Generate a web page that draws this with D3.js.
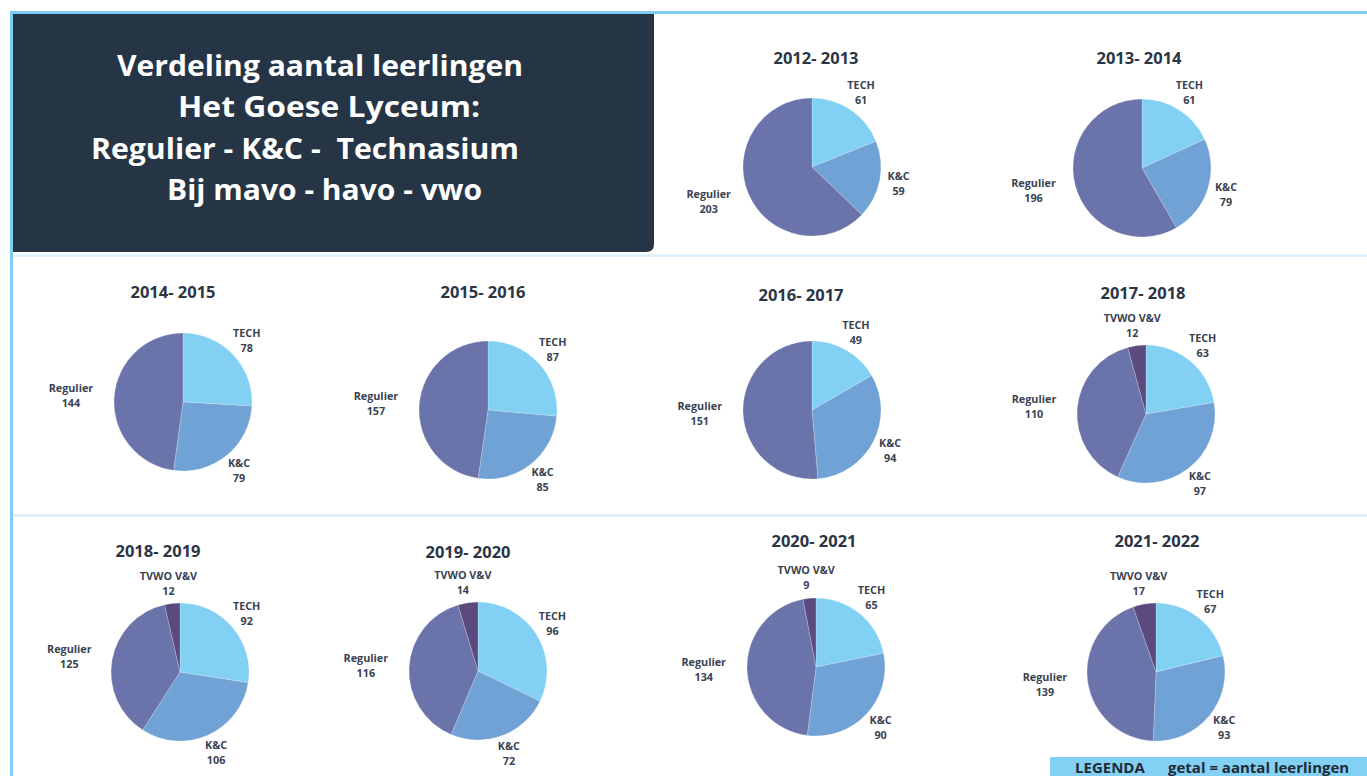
<!DOCTYPE html>
<html>
<head>
<meta charset="utf-8">
<script src="https://cdn.jsdelivr.net/npm/d3@7"></script>
<style>
  html, body { margin: 0; padding: 0; background: #ffffff; }
  svg { display: block; }
  text { font-family: "Open Sans", "Noto Sans", sans-serif; }
</style>
</head>
<body>
<svg id="chart" width="1367" height="776"></svg>
<script>
// ---------- DATA ----------
const seasons   = ["2012- 2013", "2013- 2014", "2014- 2015", "2015- 2016", "2016- 2017",
                   "2017- 2018", "2018- 2019", "2019- 2020", "2020- 2021", "2021- 2022"];
const categories = ["TECH", "K&C", "Regulier", "TVWO V&V"];
const tech      = [61, 61, 78, 87, 49, 63, 92, 96, 65, 67];
const kc        = [59, 79, 79, 85, 94, 97, 106, 72, 90, 93];
const regulier  = [203, 196, 144, 157, 151, 110, 125, 116, 134, 139];
const tvwo      = [0, 0, 0, 0, 0, 12, 12, 14, 9, 17];
const tvwoLabel = ["", "", "", "", "", "TVWO V&V", "TVWO V&V", "TVWO V&V", "TVWO V&V", "TWVO V&V"];
const titleLines = ["Verdeling aantal leerlingen", "Het Goese Lyceum:",
                    "Regulier - K&C -  Technasium", "Bij mavo - havo - vwo"];
const legendLabel = "LEGENDA";
const legendText  = "getal = aantal leerlingen";

// ---------- LAYOUT / STYLE ----------
const colors = { "TECH": "#82d0f4", "K&C": "#71a2d5", "Regulier": "#6a73aa", "TVWO V&V": "#5b4a7d" };
const extraPush = { "TECH": 0, "K&C": 3, "Regulier": 16, "TVWO V&V": 0 };
const layout = [
  { cx: 812,  cy: 167, tx: 816,  ty: 64 },
  { cx: 1142, cy: 168, tx: 1139, ty: 64 },
  { cx: 183,  cy: 402, tx: 173,  ty: 298 },
  { cx: 488,  cy: 410, tx: 483,  ty: 298 },
  { cx: 812,  cy: 410, tx: 801,  ty: 301 },
  { cx: 1146, cy: 414, tx: 1143, ty: 299 },
  { cx: 180,  cy: 672, tx: 158,  ty: 557 },
  { cx: 478,  cy: 671, tx: 468,  ty: 558 },
  { cx: 816,  cy: 667, tx: 814,  ty: 547 },
  { cx: 1156, cy: 672, tx: 1157, ty: 547 }
];
const R = 69;
const textDark = "#2b3545";

const svg = d3.select("#chart");

// frame lines
svg.append("rect").attr("x", 13).attr("y", 254).attr("width", 1354).attr("height", 3).attr("fill", "#dff0fa");
svg.append("rect").attr("x", 13).attr("y", 514).attr("width", 1354).attr("height", 3).attr("fill", "#dff0fa");
svg.append("rect").attr("x", 10).attr("y", 11).attr("width", 1357).attr("height", 3).attr("fill", "#7dcdf2");
svg.append("rect").attr("x", 10).attr("y", 11).attr("width", 3).attr("height", 765).attr("fill", "#7dcdf2");

// title box with rounded bottom-right corner
const bx = 13, by = 14, bw = 641, bh = 238, br = 8;
svg.append("path")
  .attr("d", `M${bx},${by} H${bx + bw} V${by + bh - br} Q${bx + bw},${by + bh} ${bx + bw - br},${by + bh} H${bx} Z`)
  .attr("fill", "#253546");

const titleSpec = [
  { x: 117, y: 76,  w: 406 },
  { x: 178, y: 117, w: 302 },
  { x: 91,  y: 159, w: 428 },
  { x: 167, y: 200, w: 315 }
];
svg.append("g").selectAll("text").data(titleLines).join("text")
  .attr("x", (d, i) => titleSpec[i].x)
  .attr("y", (d, i) => titleSpec[i].y)
  .attr("textLength", (d, i) => titleSpec[i].w)
  .attr("lengthAdjust", "spacingAndGlyphs")
  .attr("fill", "#ffffff")
  .attr("font-size", 29)
  .attr("font-weight", 700)
  .attr("xml:space", "preserve")
  .text(d => d);

// pies
const pie = d3.pie().sort(null).value(d => d.value);
const arc = d3.arc().innerRadius(0).outerRadius(R);

seasons.forEach((season, i) => {
  const L = layout[i];
  const g = svg.append("g").attr("transform", `translate(${L.cx},${L.cy})`);
  const rows = [
    { cat: "TECH", label: "TECH", value: tech[i] },
    { cat: "K&C", label: "K&C", value: kc[i] },
    { cat: "Regulier", label: "Regulier", value: regulier[i] },
    { cat: "TVWO V&V", label: tvwoLabel[i], value: tvwo[i] }
  ].filter(d => d.value > 0);
  const arcs = pie(rows);

  g.selectAll("path").data(arcs).join("path")
    .attr("d", arc)
    .attr("fill", d => colors[d.data.cat])
    .attr("stroke", "#ffffff")
    .attr("stroke-opacity", 0.35)
    .attr("stroke-width", 0.6);

  // labels (outside end, box-corner placement)
  arcs.forEach(a => {
    const mid = (a.startAngle + a.endAngle) / 2;
    const s = Math.sin(mid), c = Math.cos(mid);
    const lbl = g.append("text")
      .attr("text-anchor", "middle")
      .attr("font-size", 10.8)
      .attr("font-weight", 700)
      .attr("fill", "#3a4252");
    lbl.append("tspan").attr("x", 0).attr("dy", 0).text(a.data.label);
    lbl.append("tspan").attr("x", 0).attr("dy", 15).text(a.data.value);
    const w = Math.max(lbl.node().getBBox().width, 10);
    const h = 30;
    const gap = R + 5;
    const px = gap * s + s * (w / 2) + Math.sign(s) * extraPush[a.data.cat] * Math.abs(s);
    const py = -gap * c - c * (h / 2);
    lbl.attr("transform", `translate(${px},${py - 15 + 11})`);
  });

  svg.append("text")
    .attr("x", L.tx).attr("y", L.ty)
    .attr("text-anchor", "middle")
    .attr("font-size", 16.5)
    .attr("font-weight", 700)
    .attr("fill", textDark)
    .text(season);
});

// legend
svg.append("rect").attr("x", 1050).attr("y", 757).attr("width", 317).attr("height", 19).attr("fill", "#82d0f4");
svg.append("text").attr("x", 1075).attr("y", 773).attr("font-size", 15).attr("font-weight", 700)
  .attr("fill", "#1f2a36").text(legendLabel);
svg.append("text").attr("x", 1168).attr("y", 773).attr("font-size", 15).attr("font-weight", 700)
  .attr("fill", "#1f2a36").text(legendText);
</script>
</body>
</html>
